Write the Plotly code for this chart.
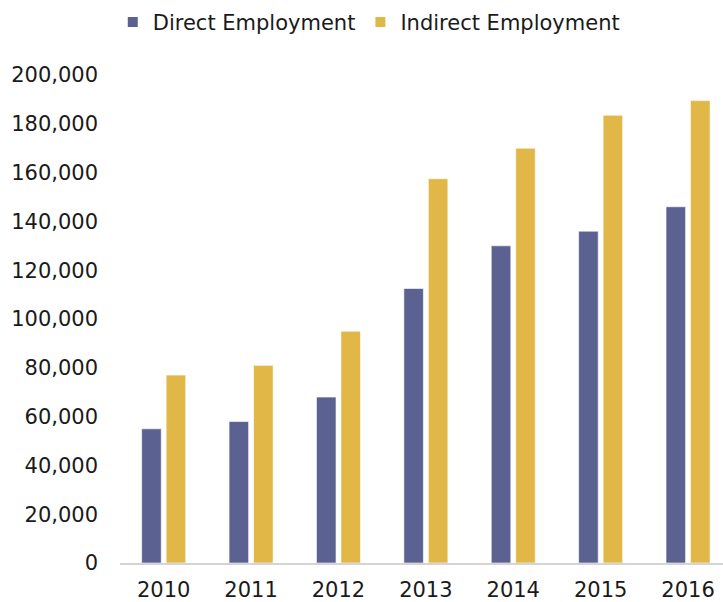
import plotly.graph_objects as go

years = ["2010", "2011", "2012", "2013", "2014", "2015", "2016"]
direct = [55000, 58000, 68000, 112500, 130000, 136000, 146000]
indirect = [77000, 81000, 95000, 157500, 170000, 183500, 189500]
y_ticks = list(range(0, 200001, 20000))

DIRECT_COLOR = "#5B6291"
INDIRECT_COLOR = "#E1B847"
FONT = "DejaVu Sans, Verdana, sans-serif"

fig = go.Figure()
fig.add_trace(go.Bar(x=years, y=direct, name="Direct Employment",
                     marker=dict(color=DIRECT_COLOR, line=dict(color="rgba(255,255,255,0.6)", width=1)),
                     showlegend=False))
fig.add_trace(go.Bar(x=years, y=indirect, name="Indirect Employment",
                     marker=dict(color=INDIRECT_COLOR, line=dict(color="rgba(255,255,255,0.6)", width=1)),
                     showlegend=False))
# legend entries drawn as small squares
for name, col in [("Direct Employment", DIRECT_COLOR), ("Indirect Employment", INDIRECT_COLOR)]:
    fig.add_trace(go.Scatter(x=[None], y=[None], mode="markers", name=name,
                             marker=dict(symbol="square", size=10, color=col)))

fig.update_layout(
    width=723, height=602,
    margin=dict(l=120, r=0, t=75, b=37),
    paper_bgcolor="white", plot_bgcolor="white",
    font=dict(family=FONT, size=21, color="#1a1a1a"),
    barmode="group", bargap=0.44, bargroupgap=0.2,
    legend=dict(orientation="h", x=-0.012, xanchor="left", y=1.108, yanchor="middle",
                font=dict(size=21), itemwidth=30, tracegroupgap=0),
    xaxis=dict(type="category", range=[-0.5, 6.4], showline=True, linecolor="#d4d4d4", linewidth=1.5,
               ticks="", showgrid=False, tickfont=dict(size=21), ticklabelstandoff=7),
    yaxis=dict(range=[0, 200000], tickvals=y_ticks, tickformat=",d", showgrid=False,
               zeroline=False, showline=False, ticks="", tickfont=dict(size=21),
               ticklabelstandoff=21),
)

fig.write_html("out.html")
